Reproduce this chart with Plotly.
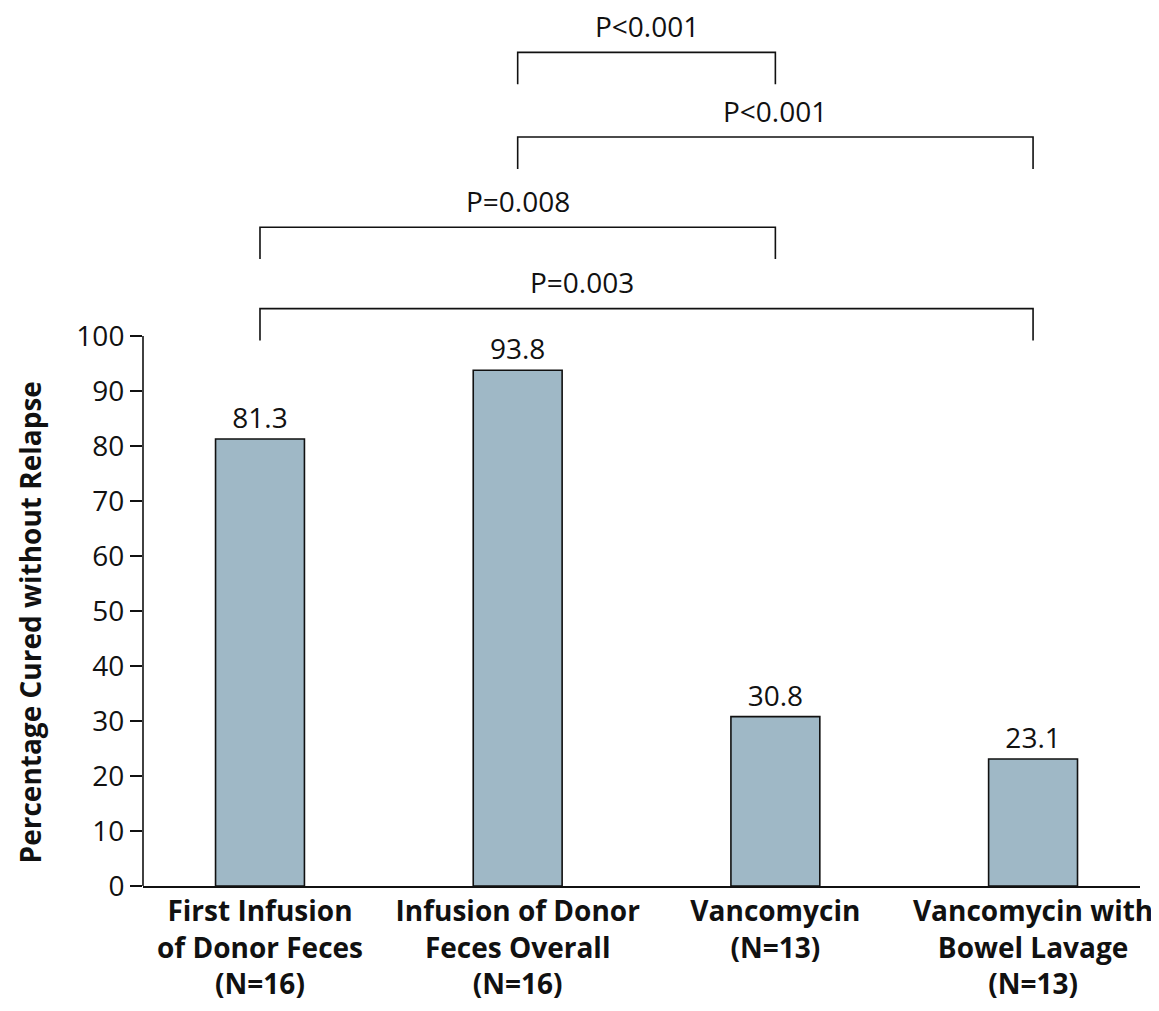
import plotly.graph_objects as go

# ── Data ──────────────────────────────────────────────────────────────────────
categories = [
    "First Infusion<br>of Donor Feces<br>(N=16)",
    "Infusion of Donor<br>Feces Overall<br>(N=16)",
    "Vancomycin<br>(N=13)",
    "Vancomycin with<br>Bowel Lavage<br>(N=13)",
]
cured_pct = [81.3, 93.8, 30.8, 23.1]
y_ticks = [0, 10, 20, 30, 40, 50, 60, 70, 80, 90, 100]

# comparison brackets: (from category idx, to category idx, label)
bracket_from = [0, 0, 1, 1]
bracket_to = [3, 2, 3, 2]
bracket_labels = ["P=0.003", "P=0.008", "P<0.001", "P<0.001"]

# ── Styling ───────────────────────────────────────────────────────────────────
FONT = "'Open Sans', sans-serif"
BAR_CLR = "#9fb8c6"
INK = "#111111"
FS = 28

# bracket geometry (data units above the bars)
BR_TOP = [105.0, 119.8, 136.2, 151.6]
BR_LEG = 5.8
BR_LABEL_X = [1.25, 1.0, 2.0, 1.5]
BR_LABEL_DY = 4.8

x_idx = list(range(len(categories)))

fig = go.Figure(go.Bar(
    x=x_idx,
    y=cured_pct,
    width=0.345,
    marker=dict(color=BAR_CLR, line=dict(color=INK, width=1.6)),
    text=[f"{v:.1f}" for v in cured_pct],
    textposition="outside",
    textfont=dict(family=FONT, size=FS, color=INK),
    cliponaxis=False,
    hoverinfo="skip",
))

shapes = [
    # y-axis line only spans 0..100
    dict(type="line", xref="paper", yref="y", x0=0, x1=0, y0=0, y1=100,
         line=dict(color=INK, width=1.6)),
]
annotations = []
for a, b, lab, top, lx in zip(bracket_from, bracket_to, bracket_labels, BR_TOP, BR_LABEL_X):
    shapes.append(dict(type="path", xref="x", yref="y",
                       path=f"M {a},{top - BR_LEG} L {a},{top} L {b},{top} L {b},{top - BR_LEG}",
                       line=dict(color=INK, width=1.6)))
    annotations.append(dict(x=lx, y=top + BR_LABEL_DY, xref="x", yref="y", text=lab,
                            showarrow=False, font=dict(family=FONT, size=FS, color=INK)))

annotations.append(dict(
    text="<b>Percentage Cured without Relapse</b>", textangle=-90,
    xref="paper", yref="y", x=-0.113, y=48, xanchor="center", yanchor="middle",
    showarrow=False, font=dict(family=FONT, size=FS, color=INK),
))

fig.update_layout(
    width=1151, height=1003,
    paper_bgcolor="white", plot_bgcolor="white",
    margin=dict(l=135, r=19, t=2, b=125),
    showlegend=False,
    font=dict(family=FONT, size=FS, color=INK),
    xaxis=dict(
        range=[-0.454, 3.415],
        tickvals=x_idx,
        ticktext=[f"<b>{c}</b>" for c in categories],
        showline=True, linecolor=INK, linewidth=1.6,
        ticks="", showgrid=False, zeroline=False,
        tickfont=dict(family=FONT, size=FS, color=INK),
    ),
    yaxis=dict(
        range=[0, 159.3],
        tickvals=y_ticks,
        ticks="outside", ticklen=12, tickwidth=1.6, tickcolor=INK,
        showline=False, showgrid=False, zeroline=False,
        tickfont=dict(family=FONT, size=FS, color=INK),
    ),
    shapes=shapes,
    annotations=annotations,
)

fig.write_html("out.html")
